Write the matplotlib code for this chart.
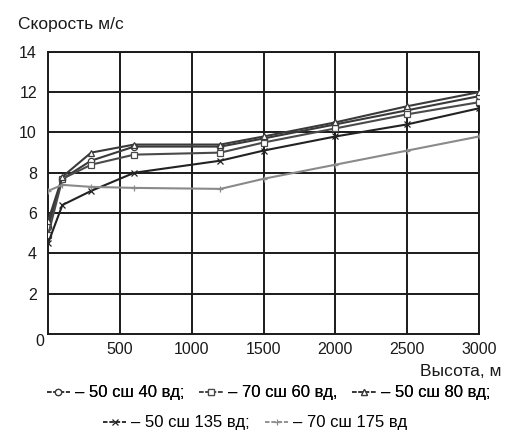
import numpy as np
import matplotlib
matplotlib.use("Agg")
import matplotlib.pyplot as plt
from matplotlib.lines import Line2D

plt.rcParams["font.family"] = ["Liberation Sans", "DejaVu Sans"]

# Wind speed profiles vs. altitude
height = [0, 100, 300, 600, 1200, 1500, 2000, 2500, 3000]

v_50n40e = [5.3, 7.7, 8.6, 9.3, 9.3, 9.7, 10.4, 11.1, 11.8]
v_70n60e = [4.9, 7.7, 8.4, 8.9, 9.0, 9.5, 10.2, 10.9, 11.5]
v_50n80e = [5.6, 7.8, 9.0, 9.4, 9.4, 9.8, 10.5, 11.3, 12.0]
v_50n135e = [4.5, 6.4, 7.1, 8.0, 8.6, 9.1, 9.8, 10.4, 11.2]
v_70n175e = [7.1, 7.4, 7.3, 7.25, 7.2, 7.7, 8.4, 9.1, 9.8]

labels = ["– 50 сш 40 вд;", "– 70 сш 60 вд,", "– 50 сш 80 вд;",
          "– 50 сш 135 вд;", "– 70 сш 175 вд"]

x_ticks = [500, 1000, 1500, 2000, 2500, 3000]
y_ticks = [2, 4, 6, 8, 10, 12, 14]

series = [
    (v_50n40e, "o", "#3a3a3a"),
    (v_70n60e, "s", "#4a4a4a"),
    (v_50n80e, "^", "#3a3a3a"),
    (v_50n135e, "x", "#222222"),
    (v_70n175e, "+", "#8a8a8a"),
]

fig = plt.figure(figsize=(5.18, 4.43), dpi=100)
ax = fig.add_axes([0.0927, 0.246, 0.832, 0.637])

handles = []
for (vals, mk, col), lab in zip(series, labels):
    face = "white" if mk in ("o", "s", "^") else col
    ax.plot(height, vals, color=col, lw=1.5, marker=mk, ms=4.5,
            mfc=face, mec=col, mew=0.9, zorder=3)
    handles.append(Line2D([], [], color=col, lw=1.3, ls=(0, (2.5, 1.0)),
                          marker=mk, ms=4.5, mfc=face, mec=col, mew=0.9,
                          label=lab))

ax.set_xlim(0, 3000)
ax.set_ylim(0, 14)
ax.set_xticks(x_ticks)
ax.set_yticks(y_ticks)
ax.grid(True, color="#1a1a1a", lw=1.4)
ax.set_axisbelow(True)
for s in ax.spines.values():
    s.set_color("#1a1a1a")
    s.set_linewidth(1.4)
ax.tick_params(length=0, labelsize=11.5, pad=6, colors="#1a1a1a")
ax.tick_params(axis="y", pad=8)

fig.text(40 / 518, 1 - 342 / 443, "0", fontsize=11.5, ha="center",
         va="center", color="#1a1a1a")
fig.text(18 / 518, 1 - 24 / 443, "Скорость м/с", fontsize=12.5,
         ha="left", va="center", color="#1a1a1a")
fig.text(501 / 518, 1 - 371 / 443, "Высота, м", fontsize=12.5,
         ha="right", va="center", color="#1a1a1a")

leg_kw = dict(loc="center", frameon=False, fontsize=12, handlelength=1.4,
              handletextpad=0.3, columnspacing=0.9)
leg1 = fig.legend(handles=handles[:3], bbox_to_anchor=(0.518, 1 - 393 / 443),
                  ncol=3, **leg_kw)
fig.add_artist(leg1)
fig.legend(handles=handles[3:], bbox_to_anchor=(0.493, 1 - 423 / 443),
           ncol=2, **leg_kw)

fig.savefig("out.png", dpi=100)
